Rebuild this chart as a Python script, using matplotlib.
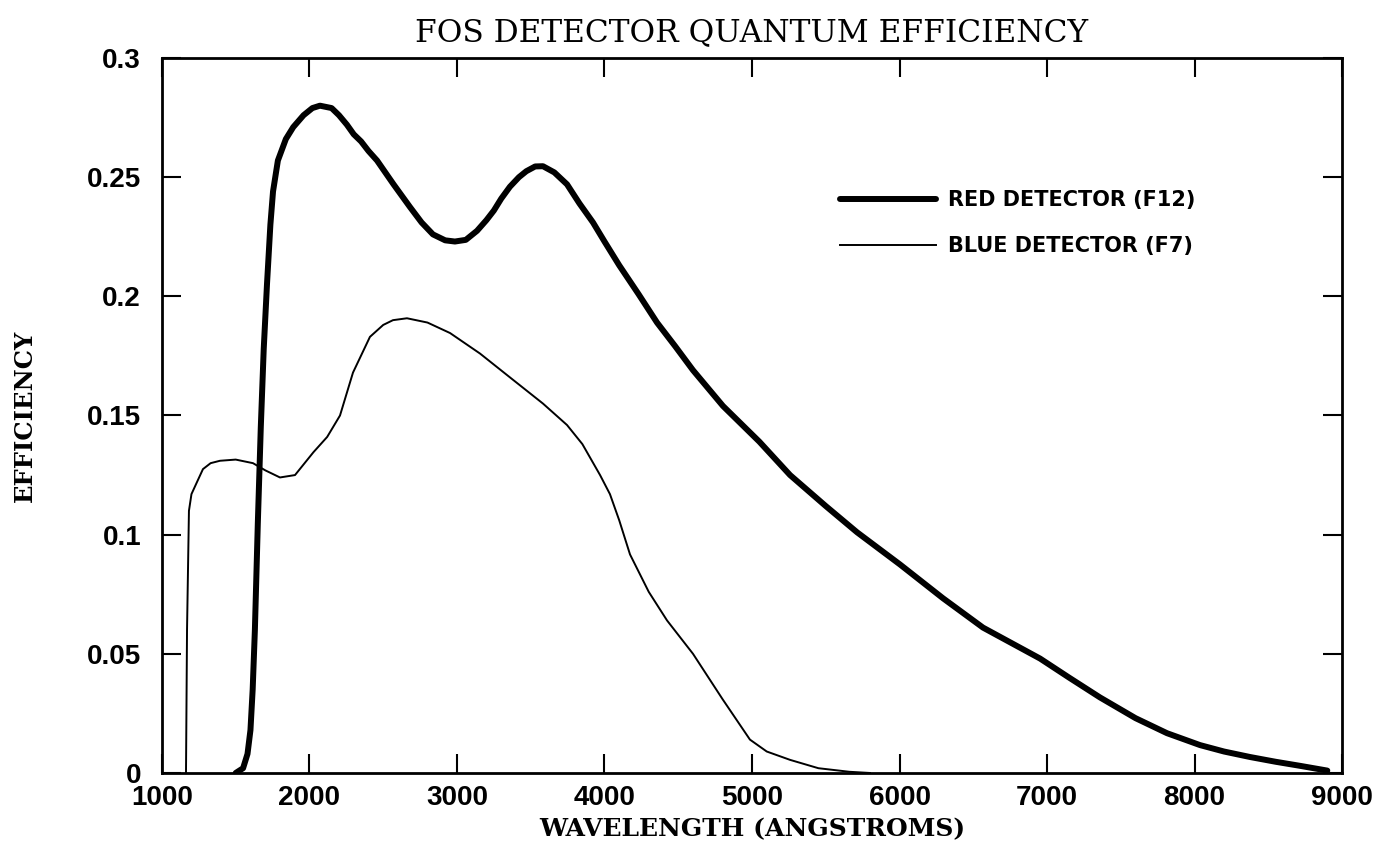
import numpy as np
import matplotlib
matplotlib.use("Agg")
import matplotlib.pyplot as plt

# values (wavelength in angstroms, efficiency)
red_wave = [1500, 1550, 1580, 1600, 1615, 1630, 1650, 1670, 1690, 1712, 1735,
            1753, 1786, 1840, 1890, 1960, 2020, 2071, 2150, 2200, 2254, 2300, 2350, 2400,
            2458, 2570, 2681, 2760, 2837, 2920, 2986, 3060, 3136, 3200, 3250, 3300, 3359,
            3420, 3470, 3530, 3583, 3660, 3746, 3830, 3922, 4000, 4100, 4230,
            4356, 4480, 4600, 4803, 5050, 5258, 5500, 5712, 6003, 6295, 6566, 6953, 7150,
            7359, 7600, 7813, 8037, 8200, 8376, 8550, 8715, 8900]
red_eff = [0.0, 0.002, 0.008, 0.018, 0.035, 0.06, 0.105, 0.145, 0.178, 0.205, 0.23,
           0.244, 0.257, 0.266, 0.271, 0.276, 0.279, 0.280, 0.279, 0.276, 0.272, 0.268, 0.265, 0.261,
           0.257, 0.247, 0.2375, 0.231, 0.226, 0.2235, 0.223, 0.2237, 0.2275, 0.232, 0.236, 0.241, 0.246,
           0.250, 0.2525, 0.2545, 0.2546, 0.252, 0.247, 0.239, 0.231, 0.223, 0.213, 0.201,
           0.189, 0.179, 0.169, 0.154, 0.139, 0.125, 0.112, 0.101, 0.0875, 0.0733, 0.061, 0.048, 0.040,
           0.0317, 0.023, 0.0167, 0.0117, 0.009, 0.0067, 0.0047, 0.003, 0.001]

blue_wave = [1163, 1170, 1183, 1200, 1237, 1278, 1330, 1393, 1500, 1617, 1700,
             1800, 1902, 2027, 2120, 2207, 2295, 2410, 2500, 2566, 2661, 2800, 2953,
             3156, 3359, 3583, 3746, 3850, 3970, 4037, 4100, 4173, 4300, 4424, 4600,
             4800, 4986, 5100, 5258, 5450, 5660, 5800]
blue_eff = [0.0, 0.06, 0.11, 0.117, 0.122, 0.1275, 0.130, 0.131, 0.1315, 0.130, 0.127,
            0.124, 0.125, 0.1346, 0.141, 0.150, 0.168, 0.183, 0.188, 0.190, 0.1908, 0.189, 0.1846,
            0.176, 0.166, 0.155, 0.146, 0.138, 0.125, 0.117, 0.106, 0.0917, 0.076, 0.064, 0.050,
            0.031, 0.014, 0.009, 0.0055, 0.002, 0.0005, 0.0]

x_ticks = [1000, 2000, 3000, 4000, 5000, 6000, 7000, 8000, 9000]
y_ticks = [0, 0.05, 0.1, 0.15, 0.2, 0.25, 0.3]
y_tick_labels = ["0", "0.05", "0.1", "0.15", "0.2", "0.25", "0.3"]

fig = plt.figure(figsize=(13.83, 8.47), dpi=100)
ax = fig.add_axes([0.1171, 0.0874, 0.8533, 0.8441])

ax.plot(red_wave, red_eff, color="black", lw=4.3, solid_capstyle="round",
        solid_joinstyle="round", label="RED DETECTOR (F12)")
ax.plot(blue_wave, blue_eff, color="black", lw=1.4, solid_joinstyle="round",
        label="BLUE DETECTOR (F7)")

ax.set_xlim(1000, 9000)
ax.set_ylim(0, 0.3)
ax.set_xticks(x_ticks)
ax.set_yticks(y_ticks)
ax.set_yticklabels(y_tick_labels)

tick_font = {"family": "Liberation Sans", "weight": "bold", "size": 20}
for lab in ax.get_xticklabels() + ax.get_yticklabels():
    lab.set_fontproperties(matplotlib.font_manager.FontProperties(**tick_font))

ax.tick_params(direction="in", length=14, width=1.5, top=True, right=True,
               labeltop=False, labelright=False)
ax.tick_params(axis="x", pad=9)
ax.tick_params(axis="y", pad=15)
for sp in ax.spines.values():
    sp.set_linewidth(2)

ax.set_title("FOS DETECTOR QUANTUM EFFICIENCY", family="DejaVu Serif",
             fontsize=22.5, pad=12)
ax.set_xlabel("WAVELENGTH (ANGSTROMS)", family="DejaVu Serif", weight="bold",
              fontsize=18, labelpad=4)
ax.set_ylabel("EFFICIENCY", family="DejaVu Serif", weight="bold",
              fontsize=17.5, labelpad=36)

leg = ax.legend(loc="upper left", bbox_to_anchor=(0.5746, 0.815), frameon=False,
                borderpad=0, borderaxespad=0, handlelength=4.6, handletextpad=0.6,
                labelspacing=1.25, prop={"family": "DejaVu Sans", "weight": "bold", "size": 15})

fig.savefig("out.png", dpi=100, facecolor="white")
